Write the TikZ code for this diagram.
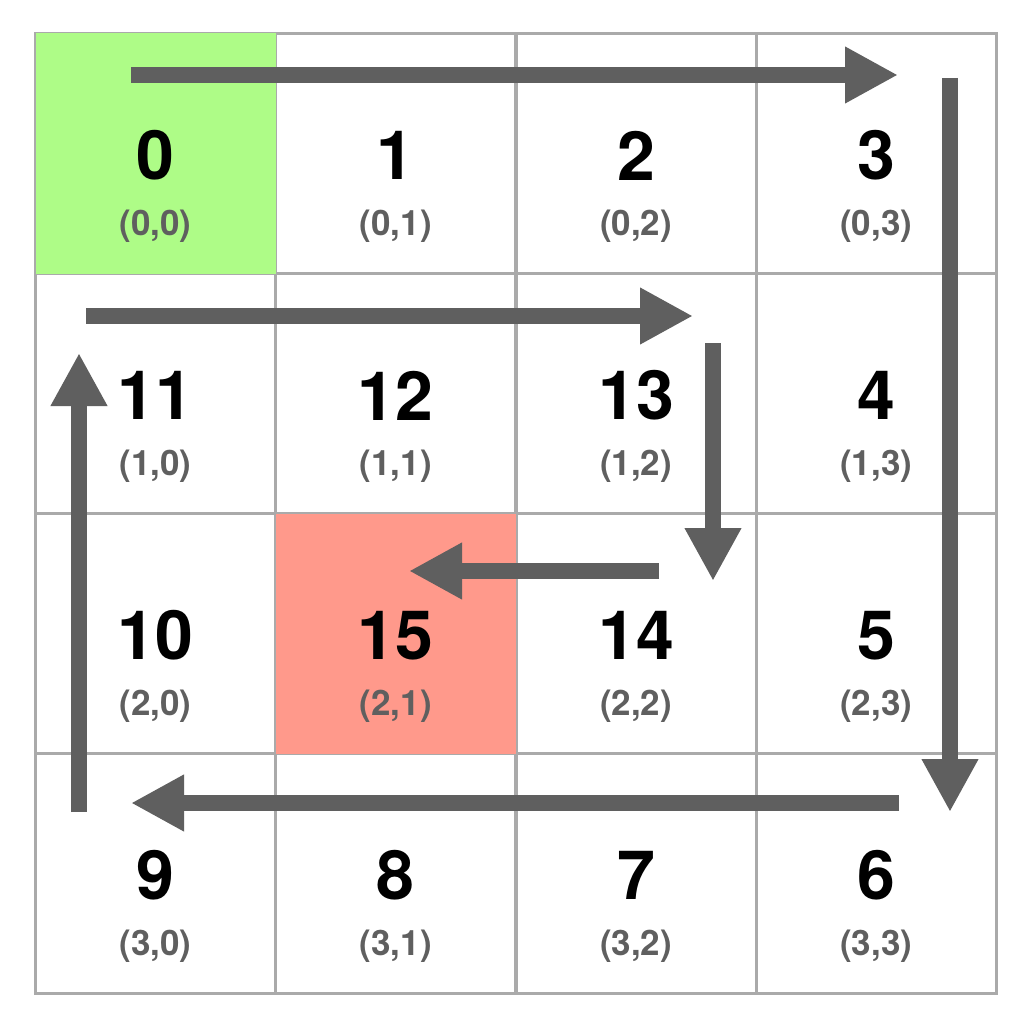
\documentclass[tikz,border=0pt]{standalone}
\usepackage{fontspec}
\setmainfont{TeX Gyre Heros}
\usetikzlibrary{arrows.meta}
\definecolor{gridgray}{HTML}{AAAAAA}
\definecolor{arrowgray}{HTML}{5F5F5F}
\definecolor{startgreen}{HTML}{AEFC87}
\definecolor{endred}{HTML}{FF998B}
\tikzset{
  cell/.style={draw=gridgray, line width=3pt, minimum width=240pt, minimum height=240pt, inner sep=0pt, anchor=north west},
  num/.style={font=\fontsize{68}{68}\selectfont\bfseries, text=black, inner sep=0pt},
  lab/.style={font=\fontsize{35}{35}\selectfont\bfseries, text=arrowgray, inner sep=0pt},
  path arrow/.style={draw=arrowgray, line width=16pt, -{Triangle[length=53pt,width=53pt]}},
}
\begin{document}
\begin{tikzpicture}[x=1pt,y=-1pt]
\useasboundingbox (0,0) rectangle (1034,1030);
\fill[white] (0,0) rectangle (1034,1030);
\foreach \r/\c in {0/0,0/1,0/2,0/3,1/0,1/1,1/2,1/3,2/0,2/1,2/2,2/3,3/0,3/1,3/2,3/3}{
  \pgfmathsetmacro{\xx}{34+240.25*\c}
  \pgfmathsetmacro{\yy}{32+240*\r}
  \node[cell] (c\r\c) at (\xx,\yy) {};
}
\fill[startgreen] ([shift={(1.5,1.5)}]c00.north west) rectangle ([shift={(-1.5,-1.5)}]c00.south east);
\fill[endred] ([shift={(1.5,1.5)}]c21.north west) rectangle ([shift={(-1.5,-1.5)}]c21.south east);
\foreach \r/\c/\n in {0/0/0,0/1/1,0/2/2,0/3/3,
                      1/0/11,1/1/12,1/2/13,1/3/4,
                      2/0/10,2/1/15,2/2/14,2/3/5,
                      3/0/9,3/1/8,3/2/7,3/3/6}{
  \node[num] (n\r\c) at ([yshift=-2pt]c\r\c.center) {\n};
  \node[lab] (l\r\c) at ([yshift=-73pt]c\r\c.center) {(\r,\c)};
}
% arrow end points
\coordinate (a1s) at (131,75);  \coordinate (a1e) at (898,75);
\coordinate (a2s) at (950,78);  \coordinate (a2e) at (950,812);
\coordinate (a3s) at (899,803); \coordinate (a3e) at (131,803);
\coordinate (a4s) at (79,812);  \coordinate (a4e) at (79,353);
\coordinate (a5s) at (86,316);  \coordinate (a5e) at (693,316);
\coordinate (a6s) at (713,343); \coordinate (a6e) at (713,581);
\coordinate (a7s) at (659,571); \coordinate (a7e) at (409,571);
\foreach \i in {1,...,7}{
  \draw[path arrow] (a\i s) -- (a\i e);
}
\end{tikzpicture}
\end{document}
